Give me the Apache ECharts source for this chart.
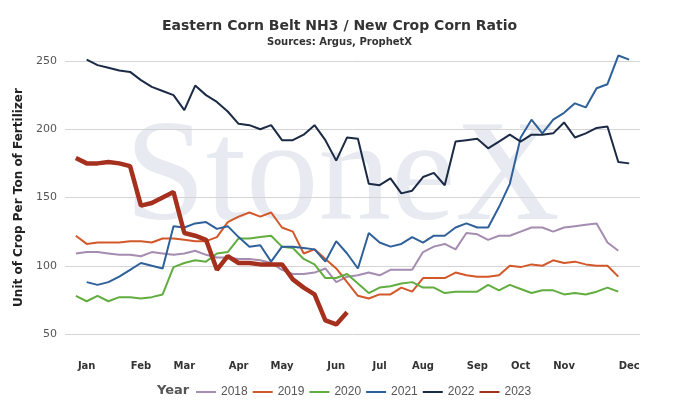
<!DOCTYPE html>
<html>
<head>
<meta charset="utf-8">
<script src="https://cdn.jsdelivr.net/npm/echarts@6/dist/echarts.min.js"></script>
<style>html,body{margin:0;padding:0;background:#fff}#chart{width:679px;height:418px}</style>
</head>
<body>
<div id="chart"></div>
<script>
// weekly slots 0..53, month labels at chosen slots
var monthSlots = {2:'Jan',7:'Feb',11:'Mar',16:'Apr',20:'May',25:'Jun',29:'Jul',33:'Aug',38:'Sep',42:'Oct',46:'Nov',52:'Dec'};
var yTicks = [50, 100, 150, 200, 250];

var y2018 = [109,110,110,109,108,108,107,110,109,108,109,111,108,106,106,105,105,104,102,97,94,94,95,98,88,92,93,95,
  93,97,97,97,110,114,116,112,124,123,119,122,122,125,128,128,125,128,129,130,131,117,111];
var y2019 = [122,116,117,117,117,118,118,117,120,120,119,118,118,121,132,136,139,136,139,128,125,109,112,105,98,88,78,76,
  79,79,84,81,91,91,91,95,93,92,92,93,100,99,101,100,104,102,103,101,100,100,92];
var y2020 = [78,74,78,74,77,77,76,77,79,99,102,104,103,109,110,120,120,121,122,114,113,105,101,91,91,94,87,80,
  84,85,87,88,84,84,80,81,81,81,86,82,86,83,80,82,82,79,80,79,81,84,81];
var y2021 = [88,86,88,92,97,102,100,98,129,128,131,132,127,129,121,114,115,103,114,114,113,112,103,118,109,98,124,
  117,114,116,121,117,122,122,128,131,128,128,143,160,194,207,197,207,212,219,216,230,233,254,251];
var y2022 = [251,247,245,243,242,236,231,228,225,214,232,225,220,213,204,203,200,203,192,192,196,203,192,177,194,193,
  160,159,164,153,155,165,168,159,191,192,193,186,191,196,191,196,196,197,205,194,197,201,202,176,175];
var y2023 = [179,175,175,176,175,173,144,146,150,154,124,122,119,97,107,102,102,101,101,101,90,84,79,60,57,66];

function place(vals, start) {
  var out = [];
  for (var i = 0; i < 54; i++) out.push(null);
  for (var j = 0; j < vals.length; j++) out[start + j] = vals[j];
  return out;
}
var slots = [];
for (var k = 0; k < 54; k++) slots.push(String(k));

var chart = echarts.init(document.getElementById('chart'));
function line(name, vals, start, color, width) {
  return {
    name: name, type: 'line', data: place(vals, start), symbol: 'none', clip: false,
    lineStyle: { color: color, width: width }, itemStyle: { color: color }
  };
}
var option = {
  animation: false,
  title: {
    text: 'Eastern Corn Belt NH3 / New Crop Corn Ratio',
    subtext: 'Sources: Argus, ProphetX',
    left: 'center', top: 14, itemGap: 4,
    textStyle: { fontFamily: 'DejaVu Sans', fontSize: 14, fontWeight: 'bold', color: '#333' },
    subtextStyle: { fontFamily: 'DejaVu Sans', fontSize: 10, fontWeight: 'bold', color: '#333' }
  },
  graphic: [
    { type: 'text', left: 125, top: 108, z: -10,
      style: { text: 'StoneX', font: '145px "Liberation Serif"', fill: '#e7eaf0' } },
    { type: 'text', left: 157, top: 384,
      style: { text: 'Year', font: 'bold 13px "DejaVu Sans"', fill: '#555' } }
  ],
  legend: {
    left: 191, top: 381, itemWidth: 20, itemHeight: 2, itemGap: 5,
    icon: 'rect',
    textStyle: { fontFamily: 'Liberation Sans', fontSize: 12, color: '#555' },
    data: ['2018', '2019', '2020', '2021', '2022', '2023']
  },
  grid: { left: 65, right: 39, top: 61, bottom: 84 },
  xAxis: {
    type: 'category', data: slots, boundaryGap: false,
    axisLine: { show: false }, axisTick: { show: false },
    axisLabel: {
      interval: 0, margin: 27,
      fontFamily: 'DejaVu Sans', fontSize: 10, fontWeight: 'bold', color: '#333',
      formatter: function (v) { return monthSlots[v] || ''; }
    }
  },
  yAxis: {
    type: 'value', min: yTicks[0], max: yTicks[yTicks.length - 1], interval: 50,
    name: 'Unit of Crop Per Ton of Fertilizer', nameLocation: 'middle', nameGap: 40,
    nameTextStyle: { fontFamily: 'DejaVu Sans', fontSize: 12, fontWeight: 'bold', color: '#222' },
    axisLabel: { fontFamily: 'DejaVu Sans', fontSize: 11, color: '#555' },
    splitLine: { lineStyle: { color: '#d4d4d4' } }
  },
  series: [
    line('2018', y2018, 1, '#a58cb0', 2),
    line('2019', y2019, 1, '#d2582a', 2),
    line('2020', y2020, 1, '#62ad3f', 2),
    line('2021', y2021, 2, '#2f609a', 2),
    line('2022', y2022, 2, '#1b2a45', 2),
    line('2023', y2023, 1, '#a5301e', 4.5)
  ]
};
chart.setOption(option);
</script>
</body>
</html>
